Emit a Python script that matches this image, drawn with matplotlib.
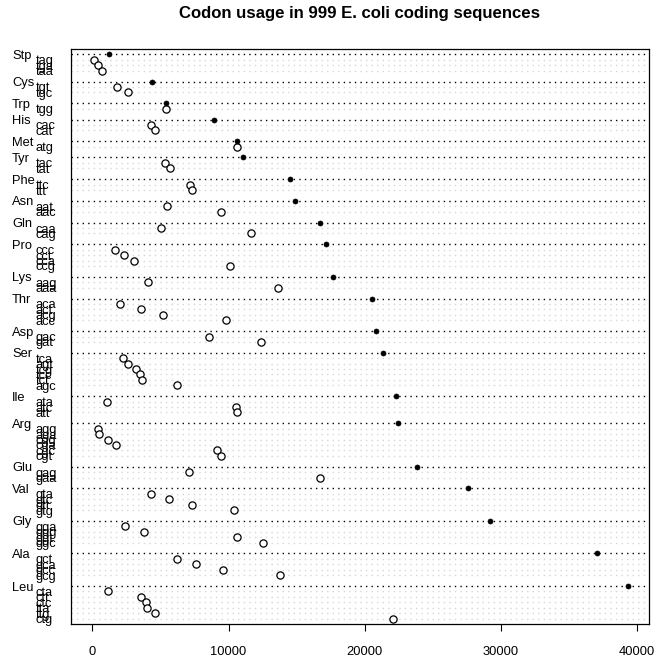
import matplotlib
matplotlib.use("Agg")
import matplotlib.pyplot as plt
import matplotlib.transforms as mtransforms

plt.rcParams['font.family'] = ['Liberation Sans', 'DejaVu Sans']

# ---------------- data (top to bottom as displayed) ----------------
amino_acids = ["Stp", "Cys", "Trp", "His", "Met", "Tyr", "Phe", "Asn", "Gln", "Pro",
               "Lys", "Thr", "Asp", "Ser", "Ile", "Arg", "Glu", "Val", "Gly", "Ala", "Leu"]
group_totals = [1190, 4375, 5382, 8912, 10603, 11066, 14500, 14890, 16684, 17147,
                17662, 20551, 20846, 21338, 22294, 22419, 23816, 27588, 29206, 37074, 39331]
codons = [
    ["tag", "tga", "taa"],
    ["tgt", "tgc"],
    ["tgg"],
    ["cac", "cat"],
    ["atg"],
    ["tac", "tat"],
    ["ttc", "ttt"],
    ["aat", "aac"],
    ["caa", "cag"],
    ["ccc", "cct", "cca", "ccg"],
    ["aag", "aaa"],
    ["aca", "act", "acg", "acc"],
    ["gac", "gat"],
    ["tca", "agt", "tcg", "tcc", "tct", "agc"],
    ["ata", "atc", "att"],
    ["agg", "aga", "cgg", "cga", "cgc", "cgt"],
    ["gag", "gaa"],
    ["gta", "gtc", "gtt", "gtg"],
    ["gga", "ggg", "ggt", "ggc"],
    ["gct", "gca", "gcc", "gcg"],
    ["cta", "ctt", "ctc", "tta", "ttg", "ctg"],
]
codon_counts = [
    [110, 405, 728],
    [1800, 2588],
    [5382],
    [4331, 4596],
    [10603],
    [5360, 5728],
    [7199, 7346],
    [5478, 9449],
    [5066, 11654],
    [1632, 2316, 3081, 10140],
    [4081, 13596],
    [2051, 3566, 5184, 9794],
    [8544, 12346],
    [2221, 2610, 3228, 3522, 3618, 6213],
    [1066, 10551, 10625],
    [382, 507, 1118, 1757, 9184, 9478],
    [7125, 16684],
    [4279, 5654, 7346, 10382],
    [2368, 3787, 10625, 12515],
    [6213, 7588, 9574, 13787],
    [1169, 3596, 3963, 4037, 4574, 22096],
]
xticks = [0, 10000, 20000, 30000, 40000]
title = "Codon usage in 999 E. coli coding sequences"

# ---------------- layout (dotchart-like rows) ----------------
n_rows = sum(len(c) for c in codons) + len(codons) + (len(codons) - 1)
top = n_rows + 1
gpos, item_y, item_x, item_lab = [], [], [], []
row = n_rows
for aa, cods, cnts in zip(amino_acids, codons, codon_counts):
    gpos.append(row)
    row -= 1
    for c, v in zip(cods, cnts):
        item_y.append(row)
        item_x.append(v)
        item_lab.append(c)
        row -= 1
    row -= 1

W, H = 657, 660
fig = plt.figure(figsize=(W / 100, H / 100), dpi=100)
L, R, T, B = 71, 649.3, 49, 624
ax = fig.add_axes([L / W, 1 - B / H, (R - L) / W, (B - T) / H])

xmax = max(max(group_totals), max(max(c) for c in codon_counts))
ax.set_xlim(-0.04 * xmax, 1.04 * xmax)
ax.set_ylim(0, top)

dot = (0, (1, 3))
for y in item_y:
    ax.axhline(y, color="#d6d6d6", lw=1.0, ls=dot, zorder=1)
for y in gpos:
    ax.axhline(y, color="black", lw=1.0, ls=dot, zorder=1)

ax.plot(item_x, item_y, ls="none", marker="o", ms=5.2, mfc="white",
        mec="black", mew=0.9, zorder=3)
ax.plot(group_totals, gpos, ls="none", marker="o", ms=3.6, mfc="black",
        mec="black", mew=0.5, zorder=3)

trans = mtransforms.blended_transform_factory(fig.transFigure, ax.transData)
fs = 9.3
for y, lab in zip(item_y, item_lab):
    ax.text(36.0 / W, y, lab, transform=trans, ha="left", va="center_baseline",
            fontsize=fs, clip_on=False)
for y, lab in zip(gpos, amino_acids):
    ax.text(12.0 / W, y, lab, transform=trans, ha="left", va="center_baseline",
            fontsize=fs, clip_on=False)

ax.set_yticks([])
ax.set_xticks(xticks)
ax.set_xticklabels([str(v) for v in xticks], fontsize=fs)
ax.tick_params(axis="x", length=5, width=0.8, pad=10.5, direction="out")
for s in ax.spines.values():
    s.set_linewidth(0.9)

fig.text(360 / W, 1 - 13.5 / H, title, ha="center", va="center",
         fontsize=12.1, fontweight="bold")

fig.savefig("out.png", dpi=100)
